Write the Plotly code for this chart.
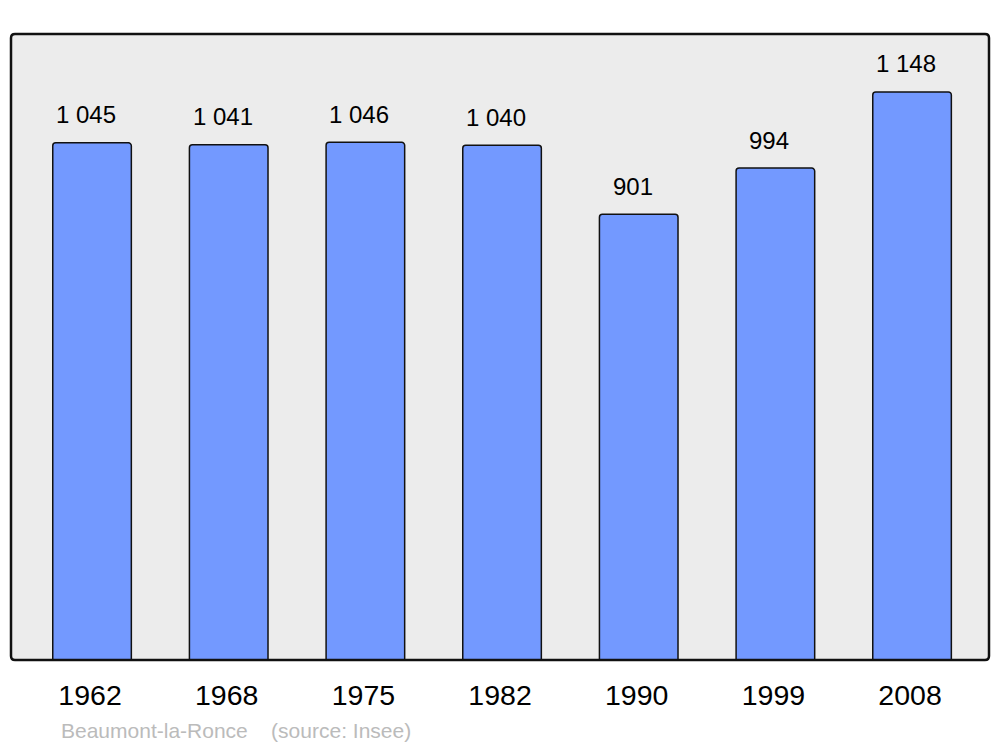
import plotly.graph_objects as go

years = ["1962", "1968", "1975", "1982", "1990", "1999", "2008"]
population = [1045, 1041, 1046, 1040, 901, 994, 1148]
value_labels = ["1 045", "1 041", "1 046", "1 040", "901", "994", "1 148"]

# page body has an 8px margin, so the figure is drawn 8px in from the window edge
W, H = 992, 739
ml, mr, mt, mb = 3, 11, 26, 87
pw, ph = W - ml - mr, H - mt - mb

fig = go.Figure()
fig.add_trace(go.Bar(
    x=list(range(len(years))), y=population,
    width=0.575,
    marker=dict(color="#7399FF", line=dict(color="#111111", width=1.5), cornerradius=3),
    hoverinfo="skip",
))

for i, (v, lab) in enumerate(zip(population, value_labels)):
    fig.add_annotation(x=i, y=v, text=lab, showarrow=False, xshift=-6, yshift=28,
                       yanchor="middle", font=dict(size=24, color="black"))

# rounded frame around plot area
r = 4
rx, ry = r / pw, r / ph
path = (f"M {rx} 0 L {1-rx} 0 Q 1 0 1 {ry} L 1 {1-ry} Q 1 1 {1-rx} 1 "
        f"L {rx} 1 Q 0 1 0 {1-ry} L 0 {ry} Q 0 0 {rx} 0 Z")
fig.add_shape(type="path", path=path, xref="paper", yref="paper",
              line=dict(color="#111111", width=2.5), layer="above")

# source note, positioned in page pixels (61, 730)
fig.add_annotation(x=(59 - 8 - ml) / pw, y=(H - mb - (730 - 8)) / ph, xref="paper", yref="paper",
                   text="Beaumont-la-Ronce    (source: Insee)", showarrow=False,
                   font=dict(size=21, color="#BBBBBB"), xanchor="left", yanchor="middle")

fig.update_layout(
    width=W, height=H,
    margin=dict(l=ml, r=mr, t=mt, b=mb),
    paper_bgcolor="white", plot_bgcolor="#ECECEC",
    font=dict(family="Liberation Sans, Arial, sans-serif"),
    showlegend=False,
    xaxis=dict(tickmode="array", tickvals=list(range(len(years))), ticktext=years,
               range=[-0.593, 6.563], showgrid=False, zeroline=False, ticks="",
               tickfont=dict(size=28.5, color="black"), ticklabelstandoff=15,
               ticklabelshift=-2),
    yaxis=dict(range=[0, 1265], visible=False, showgrid=False),
)

fig.write_html("out.html")
